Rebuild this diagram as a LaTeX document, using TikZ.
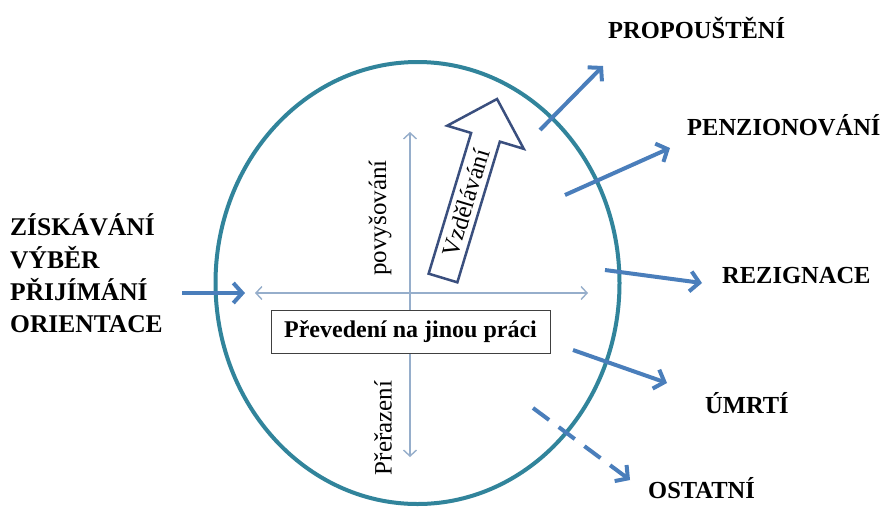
\documentclass[tikz,border=0pt]{standalone}
\usepackage{fontspec}
\setmainfont{Liberation Serif}
\usetikzlibrary{arrows.meta,shapes.geometric}
\definecolor{ringc}{HTML}{31849B}
\definecolor{flow}{HTML}{4A7EBB}
\definecolor{thinc}{HTML}{96AECB}
\definecolor{outl}{HTML}{3A4F7E}
\begin{document}
\begin{tikzpicture}[x=1pt,y=-1pt,
  lab/.style={font=\fontsize{25.5}{30}\selectfont\bfseries, inner sep=0pt, anchor=base west},
  rlab/.style={font=\fontsize{24.5}{29}\selectfont\bfseries, inner sep=0pt, anchor=base west},
  vlab/.style={font=\fontsize{25}{30}\selectfont, inner sep=0pt, rotate=90},
  flowarrow/.style={draw=flow, line width=4pt, -{Straight Barb[length=9pt,width=20pt,line width=4pt]}},
  thinarrow/.style={draw=thinc, line width=1.4pt, {Straight Barb[length=6pt,width=13pt]}-{Straight Barb[length=6pt,width=13pt]}}
]
\useasboundingbox (0,0) rectangle (882,512);
\fill[white] (0,0) rectangle (882,512);

% ring
\node (ring) [draw=ringc, line width=4pt, ellipse, minimum width=404pt, minimum height=442pt, inner sep=0pt] at (417.5,283) {};

% thin cross arrows
\coordinate (hl) at (255,293);
\coordinate (hr) at (588,293);
\coordinate (vt) at (410,132);
\coordinate (vb) at (410,457);
\draw[thinarrow] (hl) -- (hr);
\draw[thinarrow] (vt) -- (vb);

% box
\node (box) [draw=black!75, fill=white, line width=1pt, minimum width=279pt, minimum height=43pt, inner sep=2pt,
  font=\fontsize{24}{28}\selectfont\bfseries] at (410.5,331.5) {Převedení na jinou práci};

% rotated labels
\node[vlab] (povys) at (380,218) {povyšování};
\node[vlab] (prer) at (383,428) {Přeřazení};

% Vzdělávání hollow arrow
\begin{scope}[shift={(443,278)}, rotate=73.2]
  \draw[outl, line width=2.5pt, line join=miter, fill=white]
    (0,-15) -- (147,-15) -- (147,-40) -- (187,0) -- (147,40) -- (147,15) -- (0,15) -- cycle;
\end{scope}
\node[font=\fontsize{24.5}{30}\selectfont, rotate=73.2, inner sep=0pt] (vzd) at (466,203) {Vzdělávání};

% left labels
\node[lab] (l1) at (10,235) {ZÍSKÁVÁNÍ};
\node[lab] (l2) at (10,268) {VÝBĚR};
\node[lab] (l3) at (10,300) {PŘIJÍMÁNÍ};
\node[lab] (l4) at (10,332) {ORIENTACE};
\coordinate (inS) at (182,293);
\coordinate (inE) at (245,293);
\draw[flowarrow] (inS) -- (inE);

% right labels
\node[rlab] (prop) at (608,38) {PROPOUŠTĚNÍ};
\node[rlab] (penz) at (687,135) {PENZIONOVÁNÍ};
\node[rlab] (rez) at (722,283) {REZIGNACE};
\node[rlab] (umr) at (705,413) {ÚMRTÍ};
\node[rlab] (ost) at (648,498) {OSTATNÍ};

% outgoing arrows
\coordinate (a1s) at (540,130); \coordinate (a1e) at (603,66);
\coordinate (a2s) at (565,195); \coordinate (a2e) at (670,148);
\coordinate (a3s) at (605,270); \coordinate (a3e) at (702,283);
\coordinate (a4s) at (573,350); \coordinate (a4e) at (667,383);
\coordinate (a5s) at (533,408); \coordinate (a5e) at (630,480);
\draw[flowarrow] (a1s) -- (a1e);
\draw[flowarrow] (a2s) -- (a2e);
\draw[flowarrow] (a3s) -- (a3e);
\draw[flowarrow] (a4s) -- (a4e);
\draw[flowarrow, dash pattern=on 20pt off 12pt] (a5s) -- (a5e);
\end{tikzpicture}
\end{document}
